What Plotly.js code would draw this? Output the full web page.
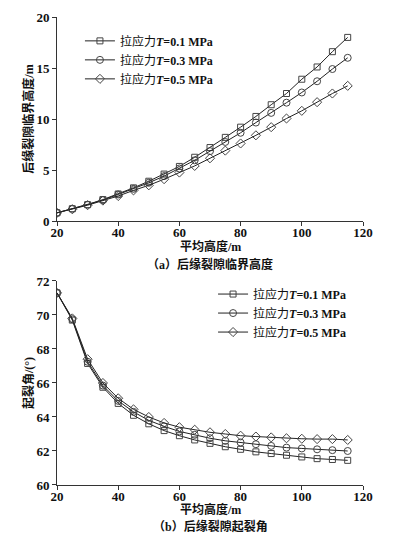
<!DOCTYPE html>
<html>
<head>
<meta charset="utf-8">
<script src="https://cdn.plot.ly/plotly-3.0.1.min.js"></script>
<style>html,body{margin:0;padding:0;background:#fff;}#chart{width:397px;height:538px;}</style>
</head>
<body>
<div id="chart"></div>
<script>
// ---- data ----
const heights = [20,25,30,35,40,45,50,55,60,65,70,75,80,85,90,95,100,105,110,115];
const seriesNames = ['拉应力<b><i>T</i>=0.1 MPa</b>','拉应力<b><i>T</i>=0.3 MPa</b>','拉应力<b><i>T</i>=0.5 MPa</b>'];
// (a) critical height of rear crack, m
const critT01 = [0.8,1.2,1.6,2.1,2.65,3.25,3.9,4.6,5.35,6.25,7.2,8.2,9.2,10.25,11.4,12.5,13.9,15.1,16.6,18.0];
const critT03 = [0.8,1.2,1.6,2.05,2.6,3.15,3.75,4.4,5.15,5.95,6.85,7.75,8.65,9.65,10.6,11.6,12.6,13.7,14.9,16.0];
const critT05 = [0.8,1.15,1.55,2.0,2.45,3.0,3.5,4.1,4.75,5.4,6.15,6.9,7.6,8.4,9.2,10.05,10.8,11.65,12.5,13.25];
// (b) crack initiation angle, deg
const angT01 = [71.3,69.7,67.15,65.75,64.8,64.1,63.6,63.2,62.9,62.65,62.45,62.25,62.1,61.95,61.85,61.75,61.65,61.55,61.5,61.45];
const angT03 = [71.3,69.75,67.25,65.85,64.95,64.3,63.8,63.45,63.15,62.95,62.75,62.6,62.5,62.4,62.3,62.2,62.15,62.1,62.05,62.0];
const angT05 = [71.3,69.8,67.4,66.0,65.1,64.45,64.0,63.65,63.4,63.25,63.1,63.0,62.9,62.85,62.8,62.75,62.72,62.7,62.7,62.65];
const xTicks = [20,40,60,80,100,120];
const yTicksA = [0,5,10,15,20];
const yTicksB = [60,62,64,66,68,70,72];
const xTitle = '平均高度/m';
const captions = ['（a）后缘裂隙临界高度', '（b）后缘裂隙起裂角'];

// ---- styling ----
const symbols = ['square-open','circle-open','diamond-open'];
const sizes = [6,7,7];
const serif = '"Liberation Serif", "Noto Sans CJK SC", serif';
const cjk = '"Liberation Serif", "Noto Sans CJK SC", sans-serif';

function mk(y, i, xa, ya, leg) {
  return {
    x: heights, y: y, type: 'scatter', mode: 'lines+markers',
    name: seriesNames[i], xaxis: xa, yaxis: ya, legend: leg,
    line: {color: '#222', width: 1},
    marker: {symbol: symbols[i], size: sizes[i], color: '#444', line: {color: '#444', width: 1}}
  };
}
const traces = [
  mk(critT01,0,'x','y','legend'), mk(critT03,1,'x','y','legend'), mk(critT05,2,'x','y','legend'),
  mk(angT01,0,'x2','y2','legend2'), mk(angT03,1,'x2','y2','legend2'), mk(angT05,2,'x2','y2','legend2')
];

const tickFont = {family: serif, size: 13, color: '#111', weight: 'bold'};
const titleFont = {family: cjk, size: 12, color: '#111', weight: 'bold'};
function xax(anchor) {
  return {anchor: anchor, range: [20,120], tickvals: xTicks, ticks: 'outside', ticklen: 4,
    tickcolor: '#333', showline: true, linecolor: '#333', linewidth: 1, showgrid: false,
    zeroline: false, tickfont: tickFont, ticklabelstandoff: -5};
}
function yax(anchor, range, tv, dom, title) {
  return {anchor: anchor, range: range, tickvals: tv, ticks: 'outside', ticklen: 4, domain: dom,
    tickcolor: '#333', showline: true, linecolor: '#333', linewidth: 1, showgrid: false,
    zeroline: false, tickfont: tickFont,
    title: {text: title, font: titleFont, standoff: 0}};
}
const py = p => (538 - 53 - p) / 468;   // pixel row -> paper y
function note(text, yPix) {
  return {text: text, xref: 'paper', yref: 'paper', x: 0.5, y: py(yPix),
    xanchor: 'center', yanchor: 'middle', showarrow: false, font: titleFont};
}

const legFont = {family: cjk, size: 12, color: '#111'};
const layout = {
  width: 397, height: 538,
  margin: {l: 57, r: 34, t: 17, b: 53},
  paper_bgcolor: '#fff', plot_bgcolor: '#fff',
  showlegend: true,
  xaxis: xax('y'),
  yaxis: yax('x', [0,20], yTicksA, [0.5641, 1], '后缘裂隙临界高度/m'),
  xaxis2: xax('y2'),
  yaxis2: yax('x2', [60,72], yTicksB, [0, 0.4359], '起裂角/(°)'),
  legend: {x: 0.075, y: 0.98, xanchor: 'left', yanchor: 'top', bgcolor: 'rgba(0,0,0,0)',
    font: legFont, itemwidth: 30, tracegroupgap: 0},
  legend2: {x: 0.51, y: 0.439, xanchor: 'left', yanchor: 'top', bgcolor: 'rgba(0,0,0,0)',
    font: legFont, itemwidth: 30, tracegroupgap: 0},
  annotations: [
    note(xTitle, 246), note(captions[0], 264),
    note(xTitle, 509), note(captions[1], 526)
  ]
};
Plotly.newPlot('chart', traces, layout, {displayModeBar: false, staticPlot: true});
</script>
</body>
</html>
